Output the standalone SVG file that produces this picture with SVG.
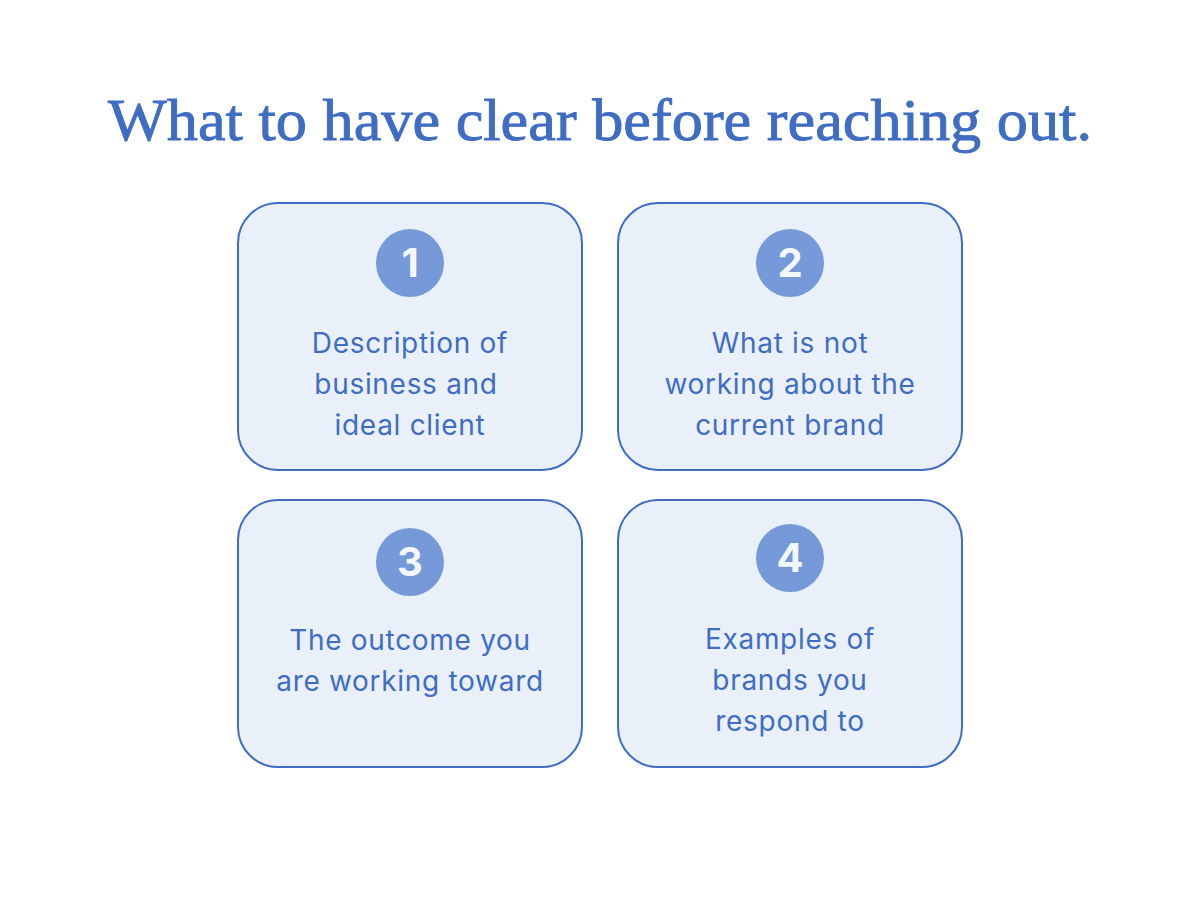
<svg xmlns="http://www.w3.org/2000/svg" width="1200" height="900" viewBox="0 0 1200 900">
<style>
.box{fill:#EAF0FA;stroke:#3F6DC3;stroke-width:2}
.badge{fill:#7599D9}
.num{font-family:Inter,"Liberation Sans",sans-serif;font-weight:700;font-size:40px;fill:#F4F7FD;text-anchor:middle}
.lbl{font-family:Inter,"Liberation Sans",sans-serif;font-size:28px;letter-spacing:0.7px;fill:#3F6DC3;text-anchor:middle}
.title{font-family:"Liberation Serif","DejaVu Serif",serif;font-size:60px;fill:#3F6DC3;stroke:#3F6DC3;stroke-width:0.9px;text-anchor:middle}
</style>
<rect width="1200" height="900" fill="#FFFFFF"/>
<text class="title" x="600" y="140" textLength="984" lengthAdjust="spacingAndGlyphs">What to have clear before reaching out.</text>
<g id="node1">
<rect class="box" x="238" y="203" width="344" height="267" rx="40"/>
<circle class="badge" cx="410" cy="263" r="34"/>
<text class="num" x="410" y="277">1</text>
<text class="lbl" x="410" y="353">Description of</text>
<text class="lbl" x="406" y="394">business and</text>
<text class="lbl" x="410" y="435">ideal client</text>
</g>
<g id="node2">
<rect class="box" x="618" y="203" width="344" height="267" rx="40"/>
<circle class="badge" cx="790" cy="263" r="34"/>
<text class="num" x="790" y="277">2</text>
<text class="lbl" x="790" y="353">What is not</text>
<text class="lbl" x="790" y="394">working about the</text>
<text class="lbl" x="790" y="435">current brand</text>
</g>
<g id="node3">
<rect class="box" x="238" y="500" width="344" height="267" rx="40"/>
<circle class="badge" cx="410" cy="562" r="34"/>
<text class="num" x="410" y="576">3</text>
<text class="lbl" x="410" y="650">The outcome you</text>
<text class="lbl" x="410" y="691">are working toward</text>
</g>
<g id="node4">
<rect class="box" x="618" y="500" width="344" height="267" rx="40"/>
<circle class="badge" cx="790" cy="558" r="34"/>
<text class="num" x="790" y="572">4</text>
<text class="lbl" x="790" y="649">Examples of</text>
<text class="lbl" x="790" y="690">brands you</text>
<text class="lbl" x="790" y="731">respond to</text>
</g>
<g id="connectors"></g>
</svg>
